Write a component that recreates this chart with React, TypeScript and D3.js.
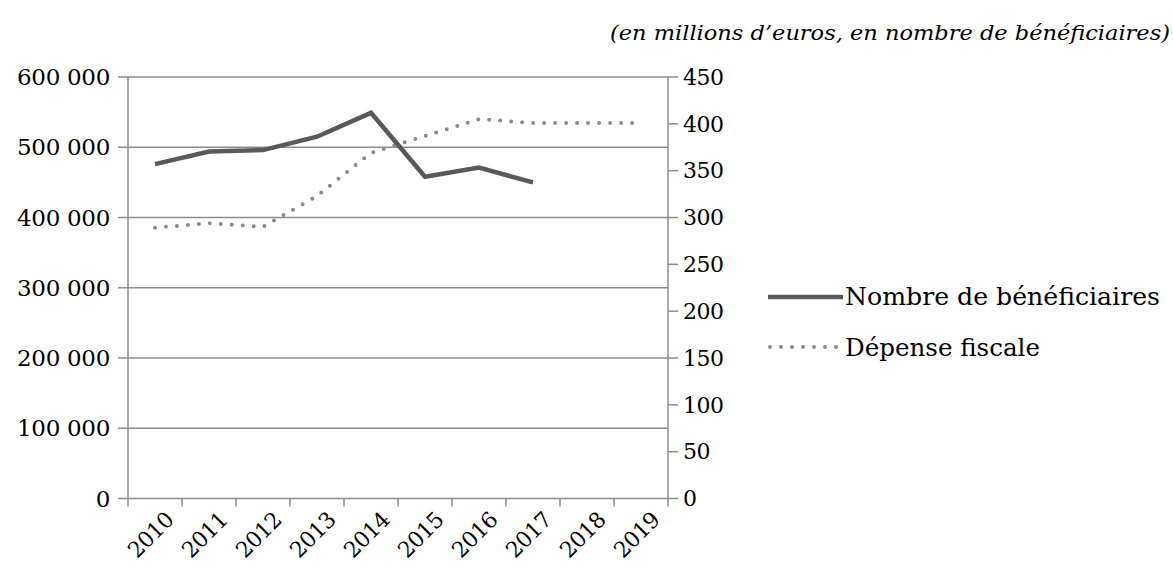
import * as d3 from "d3";
import { useEffect, useRef } from "react";

const years = ["2010", "2011", "2012", "2013", "2014", "2015", "2016", "2017", "2018", "2019"];
const beneficiaires = [476000, 494000, 496000, 515000, 549000, 458000, 471000, 450000];
const depenseFiscale = [289, 294, 290, 323, 369, 387, 405, 401, 401, 401];
const leftTicks = [0, 100000, 200000, 300000, 400000, 500000, 600000];
const rightTicks = [0, 50, 100, 150, 200, 250, 300, 350, 400, 450];
const seriesNames = ["Nombre de bénéficiaires", "Dépense fiscale"];
const unitNote = "(en millions d\u2019euros, en nombre de bénéficiaires)";

const App = () => {
  const ref = useRef<SVGSVGElement>(null);

  useEffect(() => {
    const width = 1173;
    const height = 572;
    const left = 128;
    const right = 668;
    const top = 77;
    const bottom = 498.5;
    const font = "'DejaVu Serif', serif";
    const gridColor = "#8c8c8c";

    const svg = d3
      .select(ref.current)
      .attr("width", width)
      .attr("height", height)
      .html("");

    const x = d3.scaleBand<string>().domain(years).range([left, right]).padding(0);
    const cx = (y: string) => (x(y) as number) + x.bandwidth() / 2;
    const yL = d3.scaleLinear().domain([0, 600000]).range([bottom, top]);
    const yR = d3.scaleLinear().domain([0, 450]).range([bottom, top]);
    const fmt = d3.formatLocale({ decimal: ",", thousands: " ", grouping: [3], currency: ["", "€"] }).format(",");

    // gridlines + left ticks
    svg
      .append("g")
      .selectAll("line")
      .data(leftTicks)
      .join("line")
      .attr("x1", left - 10)
      .attr("x2", right)
      .attr("y1", (d) => yL(d))
      .attr("y2", (d) => yL(d))
      .attr("stroke", gridColor)
      .attr("stroke-width", 1.5);

    svg
      .append("g")
      .selectAll("text")
      .data(leftTicks)
      .join("text")
      .attr("x", left - 18)
      .attr("y", (d) => yL(d))
      .attr("dy", "0.35em")
      .attr("text-anchor", "end")
      .style("font-family", font)
      .style("font-size", "23px")
      .style("letter-spacing", "-0.3px")
      .style("fill", "#000")
      .text((d) => fmt(d));

    // axes lines
    svg.append("line").attr("x1", left).attr("x2", left).attr("y1", top).attr("y2", bottom + 8)
      .attr("stroke", gridColor).attr("stroke-width", 1.5);
    svg.append("line").attr("x1", right).attr("x2", right).attr("y1", top).attr("y2", bottom + 8)
      .attr("stroke", gridColor).attr("stroke-width", 1.5);

    // right ticks
    svg
      .append("g")
      .selectAll("line")
      .data(rightTicks)
      .join("line")
      .attr("x1", right)
      .attr("x2", right + 10)
      .attr("y1", (d) => yR(d))
      .attr("y2", (d) => yR(d))
      .attr("stroke", gridColor)
      .attr("stroke-width", 1.5);

    svg
      .append("g")
      .selectAll("text")
      .data(rightTicks)
      .join("text")
      .attr("x", right + 15)
      .attr("y", (d) => yR(d))
      .attr("dy", "0.35em")
      .style("font-family", font)
      .style("font-size", "22px")
      .style("letter-spacing", "-0.5px")
      .style("fill", "#000")
      .text((d) => d);

    // x ticks
    svg
      .append("g")
      .selectAll("line")
      .data(years.slice(1))
      .join("line")
      .attr("x1", (d) => x(d) as number)
      .attr("x2", (d) => x(d) as number)
      .attr("y1", bottom)
      .attr("y2", bottom + 8)
      .attr("stroke", gridColor)
      .attr("stroke-width", 1.5);

    svg
      .append("g")
      .selectAll("text")
      .data(years)
      .join("text")
      .attr("transform", (d) => `translate(${cx(d) + 9}, ${bottom + 12}) rotate(-45)`)
      .attr("text-anchor", "end")
      .attr("dy", "0.7em")
      .style("font-family", font)
      .style("font-size", "22px")
      .style("letter-spacing", "-0.6px")
      .style("fill", "#000")
      .text((d) => d);

    // series
    const lineL = d3
      .line<number>()
      .x((_, i) => cx(years[i]))
      .y((d) => yL(d));
    const lineR = d3
      .line<number>()
      .x((_, i) => cx(years[i]))
      .y((d) => yR(d));

    svg
      .append("path")
      .attr("d", lineR(depenseFiscale))
      .attr("fill", "none")
      .attr("stroke", "#8a8a8a")
      .attr("stroke-width", 4)
      .attr("stroke-linecap", "round")
      .attr("stroke-dasharray", "0 11");

    svg
      .append("path")
      .attr("d", lineL(beneficiaires))
      .attr("fill", "none")
      .attr("stroke", "#595959")
      .attr("stroke-width", 4.5);

    // legend
    const legend = svg.append("g");
    legend.append("line").attr("x1", 768).attr("x2", 843).attr("y1", 297).attr("y2", 297)
      .attr("stroke", "#595959").attr("stroke-width", 4.5);
    legend.append("line").attr("x1", 770).attr("x2", 843).attr("y1", 347).attr("y2", 347)
      .attr("stroke", "#8a8a8a").attr("stroke-width", 4).attr("stroke-linecap", "round")
      .attr("stroke-dasharray", "0 11");
    legend.append("text").attr("x", 845).attr("y", 305)
      .attr("textLength", 315).attr("lengthAdjust", "spacingAndGlyphs")
      .style("font-family", font).style("font-size", "24px").style("fill", "#000")
      .text(seriesNames[0]);
    legend.append("text").attr("x", 845).attr("y", 356)
      .attr("textLength", 195).attr("lengthAdjust", "spacingAndGlyphs")
      .style("font-family", font).style("font-size", "24px").style("fill", "#000")
      .text(seriesNames[1]);

    // unit note
    svg.append("text").attr("x", 610).attr("y", 40)
      .attr("textLength", 560).attr("lengthAdjust", "spacingAndGlyphs")
      .style("font-family", font).style("font-style", "italic")
      .style("font-size", "21px").style("fill", "#000")
      .text(unitNote);
  }, []);

  return (
    <div style={{ position: "absolute", left: 0, top: 0, background: "#fff" }}>
      <svg ref={ref} style={{ display: "block" }}></svg>
    </div>
  );
};

export default App;
